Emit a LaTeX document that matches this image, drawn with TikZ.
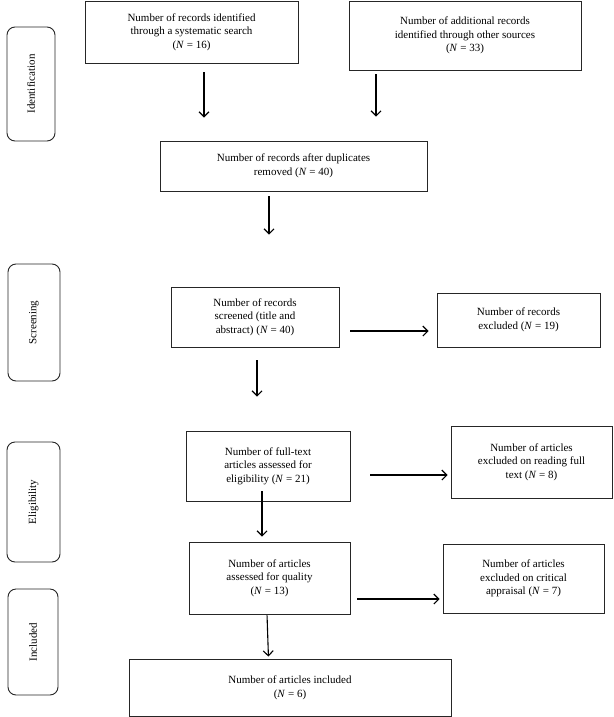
\documentclass[tikz,border=0pt]{standalone}
\usepackage{fontspec}
\setmainfont{Liberation Serif}
\usetikzlibrary{arrows.meta}
\begin{document}
\begin{tikzpicture}[x=1pt,y=-1pt,
  box/.style={draw=black!85, line width=0.9pt, align=center, font=\fontsize{11}{13.6}\selectfont, inner sep=0pt},
  side/.style={draw=black!85, rounded corners=8pt, line width=0.9pt, rotate=90, font=\fontsize{11}{12}\selectfont, inner sep=0pt},
  arr/.style={line width=1.1pt, -{Straight Barb[length=5pt,width=10pt,line width=1.1pt]}}]
\useasboundingbox (0,0) rectangle (613,717);
\fill[white] (0,0) rectangle (613,717);
% side labels
\node[side, minimum width=114pt, minimum height=48pt] (id) at (31,84) {Identification};
\node[side, minimum width=117pt, minimum height=52pt] (scr) at (34,322.5) {Screening};
\node[side, minimum width=120pt, minimum height=53pt] (eli) at (33.5,502) {Eligibility};
\node[side, minimum width=106pt, minimum height=50pt] (inc) at (33,642) {Included};
% boxes
\node[box, minimum width=213pt, minimum height=62pt] (A) at (191.5,32) {Number of records identified\\through a systematic search\\(\textit{N} = 16)};
\node[box, minimum width=232pt, minimum height=69pt] (B) at (465,35.5) {Number of additional records\\identified through other sources\\(\textit{N} = 33)};
\node[box, minimum width=267pt, minimum height=50pt] (C) at (293.5,166) {Number of records after duplicates\\removed (\textit{N} = 40)};
\node[box, minimum width=168pt, minimum height=60pt] (D) at (255,317) {Number of records\\screened (title and\\abstract) (\textit{N} = 40)};
\node[box, minimum width=163pt, minimum height=54pt] (E) at (518.5,320) {Number of records\\excluded (\textit{N} = 19)};
\node[box, minimum width=164pt, minimum height=70pt] (F) at (268,466) {Number of full-text\\articles assessed for\\eligibility (\textit{N} = 21)};
\node[box, minimum width=161pt, minimum height=72pt] (G) at (531.5,462) {Number of articles\\excluded on reading full\\text (\textit{N} = 8)};
\node[box, minimum width=161pt, minimum height=72pt] (H) at (269.5,578) {Number of articles\\assessed for quality\\(\textit{N} = 13)};
\node[box, minimum width=161pt, minimum height=69pt] (I) at (523.5,578.5) {Number of articles\\excluded on critical\\appraisal (\textit{N} = 7)};
\node[box, minimum width=322pt, minimum height=57pt] (J) at (290,687.5) {Number of articles included\\(\textit{N} = 6)};
% arrow positions
\coordinate (xa) at (204,0);
\coordinate (xb) at (376,0);
\coordinate (xc) at (269,0);
\coordinate (xd) at (257,0);
\coordinate (xf) at (262,0);
\coordinate (xh1) at (267,0);
\coordinate (xh2) at (268.5,0);
\coordinate (yde) at (0,331);
\coordinate (yfg) at (0,475);
\coordinate (yhi) at (0,599);
% connectors
\draw[arr, shorten <=9pt, shorten >=23pt] (A.south -| xa) -- (C.north -| xa);
\draw[arr, shorten <=4pt, shorten >=24pt] (B.south -| xb) -- (C.north -| xb);
\draw[arr, shorten <=5pt, shorten >=52pt] (C.south -| xc) -- (D.north -| xc);
\draw[arr, shorten <=11pt, shorten >=8pt] (D.east |- yde) -- (E.west |- yde);
\draw[arr, shorten <=13pt, shorten >=34pt] (D.south -| xd) -- (F.north -| xd);
\draw[arr, shorten <=20pt, shorten >=3pt] (F.east |- yfg) -- (G.west |- yfg);
\draw[arr, shorten <=-10pt, shorten >=5pt] (F.south -| xf) -- (H.north -| xf);
\draw[arr, shorten <=7pt, shorten >=3pt] (H.east |- yhi) -- (I.west |- yhi);
\draw[arr, shorten <=1pt, shorten >=2pt] (H.south -| xh1) -- (J.north -| xh2);
\end{tikzpicture}
\end{document}
